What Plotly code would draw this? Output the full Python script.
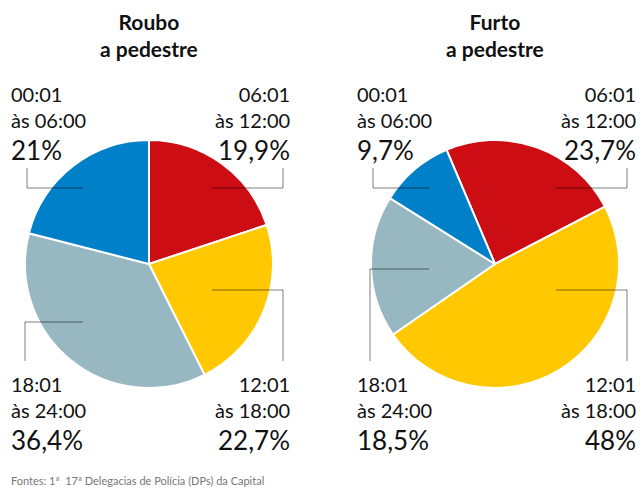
import plotly.graph_objects as go

W, H = 640, 496

periods = ["06:01<br>às 12:00", "12:01<br>às 18:00", "18:01<br>às 24:00", "00:01<br>às 06:00"]
colors = ["#CC0E14", "#FFC800", "#97B7C1", "#0080C8"]
roubo = [19.9, 22.7, 36.4, 21.0]
furto = [23.7, 48.0, 18.5, 9.7]
roubo_lbl = ["19,9%", "22,7%", "36,4%", "21%"]
furto_lbl = ["23,7%", "48%", "18,5%", "9,7%"]
titles = ["Roubo<br>a pedestre", "Furto<br>a pedestre"]
source = "Fontes: 1ª  17ª Delegacias de Polícia (DPs) da Capital"

FONT = "Lato"

def px(x):
    return x / W

def py(y):
    return 1 - y / H

fig = go.Figure()

pies = [
    dict(vals=roubo, lbl=roubo_lbl, cx=149, rot=0),
    dict(vals=furto, lbl=furto_lbl, cx=495, rot=-23),
]
cy, r = 264, 124

for p in pies:
    fig.add_trace(go.Pie(
        values=p["vals"], labels=periods, sort=False, direction="clockwise",
        rotation=p["rot"], textinfo="none", hoverinfo="label+percent",
        marker=dict(colors=colors, line=dict(color="white", width=2)),
        domain=dict(x=[px(p["cx"] - r), px(p["cx"] + r)], y=[py(cy + r), py(cy - r)]),
        showlegend=False,
    ))

annotations = []
shapes = []
line_col = "rgba(0,0,0,0.5)"

def seg(x0, y0, x1, y1):
    shapes.append(dict(type="line", xref="paper", yref="paper",
                       x0=px(x0), y0=py(y0), x1=px(x1), y1=py(y1),
                       line=dict(color=line_col, width=1)))

for i, p in enumerate(pies):
    cx = p["cx"]
    annotations.append(dict(x=px(cx), y=py(7), xref="paper", yref="paper",
                            text="<b>" + titles[i] + "</b>", showarrow=False,
                            xanchor="center", yanchor="top", align="center",
                            font=dict(family=FONT, size=21, color="#111")))
    left = cx - 140
    right = cx + 143
    # label positions: index 0 top-right, 1 bottom-right, 2 bottom-left, 3 top-left
    pos = {0: (right, "right", 80), 1: (right, "right", 370),
           2: (left, "left", 370), 3: (left, "left", 80)}
    for k in range(4):
        x, anc, ytop = pos[k]
        annotations.append(dict(x=px(x), y=py(ytop), xref="paper", yref="paper",
                                text=periods[k], showarrow=False, xanchor=anc,
                                yanchor="top", align=anc,
                                font=dict(family=FONT, size=20, color="#111")))
        annotations.append(dict(x=px(x), y=py(ytop + 52), xref="paper", yref="paper",
                                text=p["lbl"][k], showarrow=False, xanchor=anc,
                                yanchor="top", align=anc,
                                font=dict(family=FONT, size=26, color="#111")))

# leader lines
# left pie
seg(27, 168, 27, 188); seg(27, 188, 83, 188)
seg(283, 168, 283, 188); seg(212, 188, 283, 188)
seg(25, 361, 25, 322); seg(25, 322, 83, 322)
seg(283, 361, 283, 290); seg(212, 290, 283, 290)
# right pie
seg(373, 168, 373, 188); seg(373, 188, 429, 188)
seg(627, 168, 627, 188); seg(556, 188, 627, 188)
seg(370, 361, 370, 269); seg(370, 269, 429, 269)
seg(627, 361, 627, 290); seg(556, 290, 627, 290)

annotations.append(dict(x=px(9), y=py(480), xref="paper", yref="paper",
                        text=source, showarrow=False, xanchor="left", yanchor="middle",
                        font=dict(family=FONT, size=11, color="#777")))

fig.update_layout(width=W, height=H, margin=dict(l=0, r=0, t=0, b=0),
                  paper_bgcolor="white", plot_bgcolor="white",
                  annotations=annotations, shapes=shapes)

fig.write_html("out.html", config={"displayModeBar": False},
               post_script="document.body.style.margin='0';")
